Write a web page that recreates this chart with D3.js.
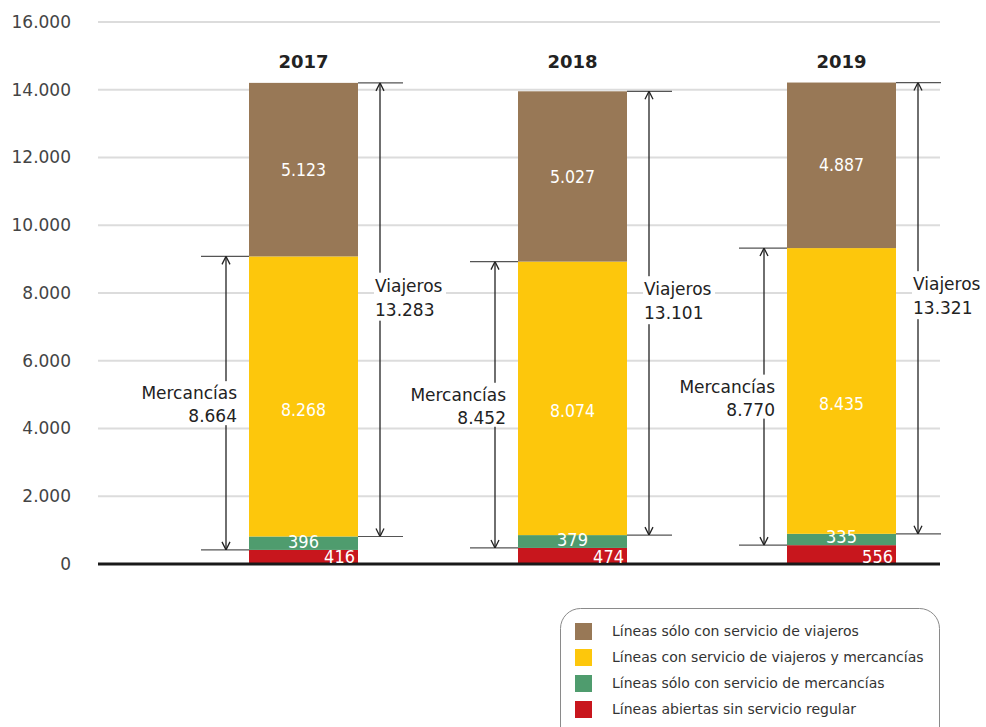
<!DOCTYPE html>
<html>
<head>
<meta charset="utf-8">
<script src="https://cdn.jsdelivr.net/npm/d3@7"></script>
<style>
  body { margin: 0; background: #fff; }
  svg { font-family: "DejaVu Sans", sans-serif; }
</style>
</head>
<body>
<svg id="chart" width="986" height="727"></svg>
<script>
// data
var years = ["2017", "2018", "2019"];
var sinServicio = [416, 474, 556];       // red
var soloMercancias = [396, 379, 335];    // green
var viajerosMercancias = [8268, 8074, 8435]; // yellow
var soloViajeros = [5123, 5027, 4887];   // brown
var totalMercancias = ["8.664", "8.452", "8.770"];
var totalViajeros = ["13.283", "13.101", "13.321"];
var yTicks = [0, 2000, 4000, 6000, 8000, 10000, 12000, 14000, 16000];

var seriesNames = [
    "Líneas abiertas sin servicio regular",
    "Líneas sólo con servicio de mercancías",
    "Líneas con servicio de viajeros y mercancías",
    "Líneas sólo con servicio de viajeros"
];
var colors = ["#c8161d", "#4f9c6e", "#fdc70c", "#987856"];

var svg = d3.select("#chart");
var fmt = d3.formatLocale({decimal: ",", thousands: ".", grouping: [3], currency: ["", "€"]}).format(",d");

var y = d3.scaleLinear().domain([0, 16000]).range([564, 22]);
var x = d3.scaleBand().domain(years).range([89, 1056])
    .paddingInner(160 / 269).paddingOuter(160 / 269);

// grid
svg.append("g").selectAll("line")
    .data(yTicks)
    .enter().append("line")
    .attr("x1", 98).attr("x2", 940)
    .attr("y1", d => y(d)).attr("y2", d => y(d))
    .attr("stroke", "#dcdcdc").attr("stroke-width", 2);

svg.append("g").selectAll("text")
    .data(yTicks)
    .enter().append("text")
    .attr("x", 71).attr("y", d => y(d)).attr("dy", "0.35em")
    .attr("text-anchor", "end")
    .style("font-size", "17px").attr("fill", "#444")
    .text(d => fmt(d));

// stack the rows
var rows = years.map(function(yr, i) {
    return {year: yr, s0: sinServicio[i], s1: soloMercancias[i], s2: viajerosMercancias[i], s3: soloViajeros[i]};
});
var stack = d3.stack().keys(["s0", "s1", "s2", "s3"]);
var stacked = stack(rows);

var bars = svg.append("g");
stacked.forEach(function(layer, k) {
    bars.selectAll(".l" + k)
        .data(layer)
        .enter().append("rect")
        .attr("x", d => x(d.data.year))
        .attr("width", x.bandwidth())
        .attr("y", d => y(d[1]))
        .attr("height", d => y(d[0]) - y(d[1]))
        .attr("fill", colors[k]);
});

// baseline
svg.append("line")
    .attr("x1", 98).attr("x2", 940)
    .attr("y1", y(0)).attr("y2", y(0))
    .attr("stroke", "#1a1a1a").attr("stroke-width", 3);

// year titles
svg.append("g").selectAll("text")
    .data(years)
    .enter().append("text")
    .attr("x", d => x(d) + x.bandwidth() / 2)
    .attr("y", 68)
    .attr("text-anchor", "middle")
    .style("font-size", "18px").style("font-weight", "bold").attr("fill", "#222")
    .text(d => d);

// value labels
var lab = svg.append("g").attr("fill", "#fff").style("font-family", "DejaVu Sans Condensed");
rows.forEach(function(r, i) {
    var bx = x(r.year), bw = x.bandwidth();
    var t3 = stacked[3][i], t2 = stacked[2][i], t1 = stacked[1][i];
    lab.append("text")
        .attr("x", bx + bw / 2).attr("y", (y(t3[0]) + y(t3[1])) / 2).attr("dy", "0.35em")
        .attr("text-anchor", "middle").style("font-size", "17.5px")
        .text(fmt(r.s3));
    lab.append("text")
        .attr("x", bx + bw / 2).attr("y", (y(t2[0]) + y(t2[1])) / 2 + 13).attr("dy", "0.35em")
        .attr("text-anchor", "middle").style("font-size", "17.5px")
        .text(fmt(r.s2));
    lab.append("text")
        .attr("x", bx + bw / 2).attr("y", y(t1[0]) - 2)
        .attr("text-anchor", "middle")
        .style("font-size", "18px")
        .text(r.s1);
    lab.append("text")
        .attr("x", bx + bw - 3).attr("y", y(0) - 1)
        .attr("text-anchor", "end")
        .style("font-size", "18px")
        .text(r.s0);
});

// dimension arrows
var defs = svg.append("defs");
defs.append("marker").attr("id", "arr")
    .attr("viewBox", "0 0 10 10").attr("refX", 10).attr("refY", 5)
    .attr("markerWidth", 10).attr("markerHeight", 10)
    .attr("markerUnits", "userSpaceOnUse").attr("orient", "auto-start-reverse")
    .append("path").attr("d", "M2,1 L10,5 L2,9")
    .attr("fill", "none").attr("stroke", "#222").attr("stroke-width", 1.3);

var dims = svg.append("g");
rows.forEach(function(r, i) {
    var bx = x(r.year), bw = x.bandwidth();
    var mBot = y(stacked[1][i][0]), mTop = y(stacked[2][i][1]);
    var vBot = y(stacked[2][i][0]), vTop = y(stacked[3][i][1]);
    var lx = bx - 23, rx = bx + bw + 22;

    // extension lines
    [mBot, mTop].forEach(function(yy) {
        dims.append("line").attr("x1", bx - 48).attr("x2", bx).attr("y1", yy).attr("y2", yy)
            .attr("stroke", "#555").attr("stroke-width", 1.2);
    });
    [vBot, vTop].forEach(function(yy) {
        dims.append("line").attr("x1", bx + bw).attr("x2", bx + bw + 45).attr("y1", yy).attr("y2", yy)
            .attr("stroke", "#555").attr("stroke-width", 1.2);
    });

    dims.append("line").attr("x1", lx).attr("x2", lx).attr("y1", mBot).attr("y2", mTop)
        .attr("stroke", "#222").attr("stroke-width", 1.3)
        .attr("marker-start", "url(#arr)").attr("marker-end", "url(#arr)");
    dims.append("line").attr("x1", rx).attr("x2", rx).attr("y1", vBot).attr("y2", vTop)
        .attr("stroke", "#222").attr("stroke-width", 1.3)
        .attr("marker-start", "url(#arr)").attr("marker-end", "url(#arr)");

    // Mercancías label
    var mMid = (mBot + mTop) / 2;
    dims.append("rect").attr("x", lx - 88).attr("y", mMid - 22).attr("width", 100).attr("height", 44).attr("fill", "#fff");
    var mt = dims.append("text").attr("text-anchor", "end").style("font-size", "17px").attr("fill", "#222");
    mt.append("tspan").attr("x", bx - 12).attr("y", mMid - 4).text("Mercancías");
    mt.append("tspan").attr("x", bx - 12).attr("y", mMid + 19).text(totalMercancias[i]);

    // Viajeros label
    var vMid = (vBot + vTop) / 2 - 13;
    dims.append("rect").attr("x", bx + bw + 16).attr("y", vMid - 24).attr("width", 72).attr("height", 48).attr("fill", "#fff");
    var vt = dims.append("text").attr("text-anchor", "start").style("font-size", "17px").attr("fill", "#222");
    vt.append("tspan").attr("x", bx + bw + 17).attr("y", vMid - 5).text("Viajeros");
    vt.append("tspan").attr("x", bx + bw + 17).attr("y", vMid + 19).text(totalViajeros[i]);
});

// legend
var leg = svg.append("g");
leg.append("rect").attr("x", 560.5).attr("y", 608.5).attr("width", 379).attr("height", 140)
    .attr("rx", 20).attr("fill", "#fff").attr("stroke", "#8a8a8a").attr("stroke-width", 1);
var order = [3, 2, 1, 0];
order.forEach(function(k, j) {
    var cy = 631 + j * 26;
    leg.append("rect").attr("x", 575).attr("y", cy - 8).attr("width", 17).attr("height", 17).attr("fill", colors[k]);
    leg.append("text").attr("x", 612).attr("y", cy).attr("dy", "0.35em")
        .style("font-size", "14px").attr("fill", "#333")
        .text(seriesNames[k]);
});
</script>
</body>
</html>
